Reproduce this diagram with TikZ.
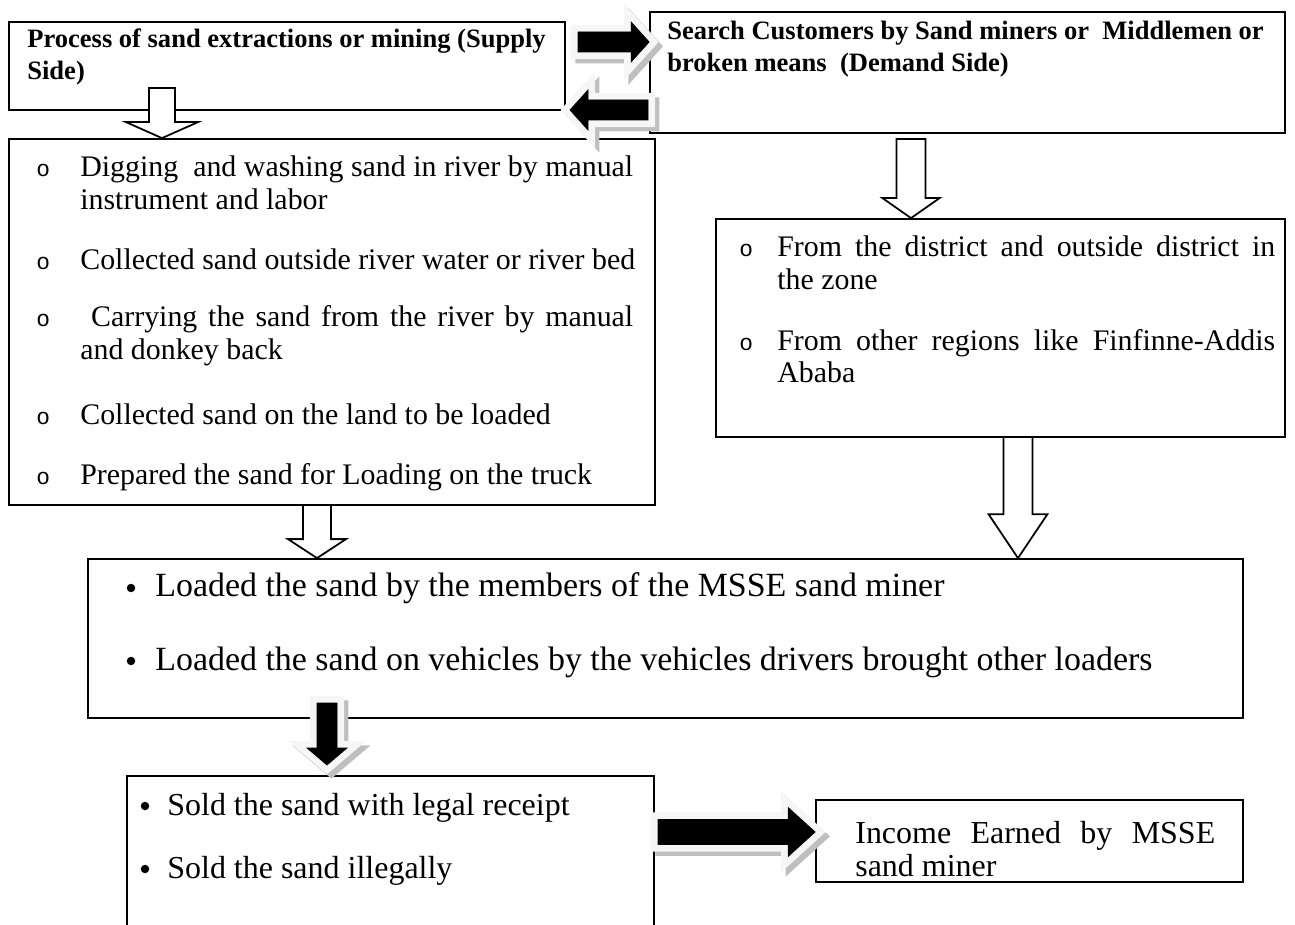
\documentclass[tikz,border=0pt]{standalone}
\usepackage{fontspec}
\setmainfont{Liberation Serif}
\newfontfamily\ringfont{Liberation Mono}
\usetikzlibrary{calc,fit}

% block arrow: style, tail, tip, shaft half width, head half width, head length
\newcommand\blockarrow[6]{%
  \draw[#1] ($(#2)!#4!90:(#3)$) -- ($(#3)!#6!(#2)!#4!90:(#3)$) -- ($(#3)!#6!(#2)!#5!90:(#3)$)
    -- (#3) -- ($(#3)!#6!(#2)!#5!-90:(#3)$) -- ($(#3)!#6!(#2)!#4!-90:(#3)$) -- ($(#2)!#4!-90:(#3)$) -- cycle;}

\begin{document}
\begin{tikzpicture}[x=0.02cm, y=-0.02cm]
        \tikzstyle{box}=[draw=black, line width=1pt, inner sep=0pt]
        \tikzstyle{head}=[anchor=base west, inner sep=0pt, font=\fontsize{15.1}{18}\selectfont\bfseries]
        \tikzstyle{item}=[anchor=base west, inner sep=0pt, font=\fontsize{17}{20}\selectfont]
        \tikzstyle{bigitem}=[anchor=base west, inner sep=0pt, font=\fontsize{19.3}{22}\selectfont]
        \tikzstyle{solditem}=[anchor=base west, inner sep=0pt, font=\fontsize{18.2}{22}\selectfont]
        \tikzstyle{ring}=[anchor=base west, inner sep=0pt, font=\fontsize{13}{15}\selectfont\ringfont]
        \tikzstyle{dot}=[circle, fill=black, inner sep=0pt, minimum size=0.17cm]
        \tikzstyle{openarrow}=[draw=black, fill=white, line width=1pt]
        \tikzstyle{solidarrow}=[fill=black, line join=miter,
            preaction={fill=gray!50, draw=gray!50, line width=8pt, transform canvas={shift={(2.5pt,-2.5pt)}}},
            preaction={fill=gray!7, draw=gray!7, line width=8pt}]

        \useasboundingbox (0,0) rectangle (1295,925);

        \node[box, fit={(9,22) (565,110)}]     (supply)  {};
        \node[box, fit={(650,12) (1285,133)}]  (demand)  {};
        \node[box, fit={(9,139) (655,505)}]    (steps)   {};
        \node[box, fit={(716,219) (1285,437)}] (market)  {};
        \node[box, fit={(88,559) (1243,718)}]  (loading) {};
        \node[box, fit={(127,776) (654,940)}]  (selling) {};
        \node[box, fit={(816,800) (1243,882)}] (income)  {};

        \node[head] (supply1) at (27,48)  {Process of sand extractions or mining (Supply};
        \node[head] (supply2) at (27,80)  {Side)};
        \node[head] (demand1) at (667,40) {Search Customers by Sand miners or\ \ Middlemen or};
        \node[head] (demand2) at (667,72) {broken means\ \ (Demand Side)};

        \node[ring] (o1) at (36,177) {o};
        \node[item] (s1) at (80,177) {\makebox[11.06cm][s]{Digging\ \ and washing sand in river by manual}};
        \node[item] (s1b) at (80,210) {instrument and labor};
        \node[ring] (o2) at (36,270) {o};
        \node[item] (s2) at (80,270) {Collected sand outside river water or river bed};
        \node[ring] (o3) at (36,327) {o};
        \node[item] (s3) at (80,327) {\makebox[11.06cm][s]{\ Carrying the sand from the river by manual}};
        \node[item] (s3b) at (80,360) {and donkey back};
        \node[ring] (o4) at (36,425) {o};
        \node[item] (s4) at (80,425) {Collected sand on the land to be loaded};
        \node[ring] (o5) at (36,485) {o};
        \node[item] (s5) at (80,485) {Prepared the sand for Loading on the truck};

        \node[ring] (o6) at (739,257) {o};
        \node[item] (m1) at (777,257) {\makebox[9.96cm][s]{From the district and outside district in}};
        \node[item] (m1b) at (777,290) {the zone};
        \node[ring] (o7) at (739,351) {o};
        \node[item] (m2) at (777,351) {\makebox[9.96cm][s]{From other regions like Finfinne-Addis}};
        \node[item] (m2b) at (777,383) {Ababa};

        \node[dot] (d1) at (131,588) {};
        \node[bigitem] (l1) at (155,597) {Loaded the sand by the members of the MSSE sand miner};
        \node[dot] (d2) at (131,661) {};
        \node[bigitem] (l2) at (155,670) {Loaded the sand on vehicles by the vehicles drivers brought other loaders};

        \node[dot] (d3) at (145,806) {};
        \node[solditem] (r1) at (167,815) {Sold the sand with legal receipt};
        \node[dot] (d4) at (145,869) {};
        \node[solditem] (r2) at (167,878) {Sold the sand illegally};

        \node[solditem] (g1) at (855,843) {\makebox[7.2cm][s]{Income Earned by MSSE}};
        \node[solditem] (g2) at (855,876) {sand miner};

        % arrow ends
        \coordinate (a1) at (162,88);   \coordinate (a1t) at (a1 |- steps.north);
        \coordinate (a2) at (911,139);  \coordinate (a2t) at (a2 |- market.north);
        \coordinate (a3) at (317,505);  \coordinate (a3t) at (a3 |- loading.north);
        \coordinate (a4) at (1018,437); \coordinate (a4t) at (a4 |- loading.north);
        \coordinate (b1) at (578,42);   \coordinate (b1t) at (b1 -| demand.west);
        \coordinate (b2) at (648,110);  \coordinate (b2t) at (570,110);
        \coordinate (b3) at (327,703);  \coordinate (b3t) at (327,765);
        \coordinate (b4) at (658,832);  \coordinate (b4t) at (b4 -| income.west);

        \blockarrow{openarrow}{a1}{a1t}{0.26cm}{0.72cm}{0.32cm}
        \blockarrow{openarrow}{a2}{a2t}{0.29cm}{0.57cm}{0.4cm}
        \blockarrow{openarrow}{a3}{a3t}{0.28cm}{0.58cm}{0.38cm}
        \blockarrow{openarrow}{a4}{a4t}{0.29cm}{0.59cm}{0.88cm}

        \blockarrow{solidarrow}{b1}{b1t}{0.2cm}{0.4cm}{0.36cm}
        \blockarrow{solidarrow}{b2}{b2t}{0.2cm}{0.4cm}{0.36cm}
        \blockarrow{solidarrow}{b3}{b3t}{0.2cm}{0.4cm}{0.34cm}
        \blockarrow{solidarrow}{b4}{b4t}{0.25cm}{0.49cm}{0.54cm}
    \end{tikzpicture}
\end{document}
